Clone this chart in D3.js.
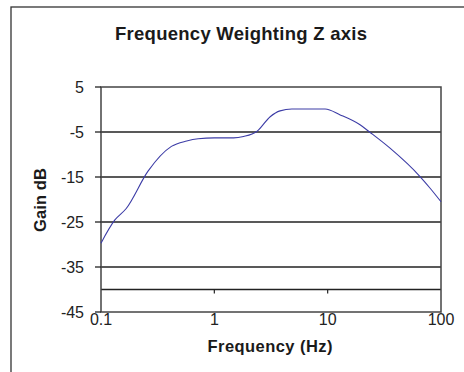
<!DOCTYPE html>
<html><head><meta charset="utf-8">
<script src="https://cdn.jsdelivr.net/npm/d3@7"></script>
<style>body{margin:0;background:#fff}svg{display:block}</style>
</head><body>
<script>
const freqHz = [0.1, 0.132, 0.167, 0.26, 0.418, 0.57, 0.72, 1.0, 1.48, 1.81, 2.37, 3.11, 3.8, 4.83, 9.5, 12.9, 19.3, 23.7, 35.5, 65.3, 80.2, 100];
const gainDb = [-29.7, -24.6, -22.0, -13.7, -8.2, -7.0, -6.5, -6.3, -6.3, -6.0, -4.9, -1.6, -0.3, 0.1, 0.1, -1.2, -3.4, -5.1, -8.6, -14.9, -17.5, -20.5];
const yTicks = [5, -5, -15, -25, -35, -45];
const gridLines = [-5, -15, -25, -35, -40];
const xTicks = [0.1, 1, 10, 100];
const xLabels = ["0.1", "1", "10", "100"];
const title = "Frequency Weighting Z axis";
const xTitle = "Frequency (Hz)";
const yTitle = "Gain dB";

const W = 464, H = 372;
const svg = d3.select("body").append("svg").attr("width", W).attr("height", H);
const font = "Liberation Sans, Arial, sans-serif";

// outer chart border
svg.append("rect").attr("x", 11).attr("y", 7).attr("width", 470).attr("height", 380)
  .attr("fill", "none").attr("stroke", "#333").attr("stroke-width", 1.3);

const L = 101, R = 441, T = 87, B = 312;
const x = d3.scaleLog().domain([0.1, 100]).range([L, R]);
const y = d3.scaleLinear().domain([-45, 5]).range([B, T]);

// gridlines
svg.append("g").selectAll("line").data(gridLines).join("line")
  .attr("x1", L).attr("x2", R).attr("y1", d => y(d)).attr("y2", d => y(d))
  .attr("stroke", "#222").attr("stroke-width", 1.3);

// crossing x axis at -40 with ticks
svg.append("g").selectAll("line").data([1, 10]).join("line")
  .attr("x1", d => x(d)).attr("x2", d => x(d)).attr("y1", y(-40)).attr("y2", y(-40) + 4)
  .attr("stroke", "#222").attr("stroke-width", 1.2);

// plot border
svg.append("rect").attr("x", L).attr("y", T).attr("width", R - L).attr("height", B - T)
  .attr("fill", "none").attr("stroke", "#444").attr("stroke-width", 1.5);

// y ticks
svg.append("g").selectAll("line").data(yTicks).join("line")
  .attr("x1", L - 6).attr("x2", L).attr("y1", d => y(d)).attr("y2", d => y(d))
  .attr("stroke", "#222").attr("stroke-width", 1.3);
svg.append("g").selectAll("text").data(yTicks).join("text")
  .attr("x", 84).attr("y", d => y(d)).attr("dy", "0.36em")
  .attr("text-anchor", "end").attr("font-family", font).attr("font-size", 16)
  .attr("fill", "#222").text(d => d);

// x labels
svg.append("g").selectAll("text").data(xTicks).join("text")
  .attr("x", d => x(d)).attr("y", 325)
  .attr("text-anchor", "middle").attr("font-family", font).attr("font-size", 16)
  .attr("fill", "#222").text((d, i) => xLabels[i]);

// curve
const line = d3.line().x((d, i) => x(freqHz[i])).y(d => y(d)).curve(d3.curveMonotoneX);
svg.append("path").datum(gainDb).attr("d", line)
  .attr("fill", "none").attr("stroke", "#3c3ca6").attr("stroke-width", 1.1);

// titles
svg.append("text").attr("x", 241).attr("y", 40).attr("text-anchor", "middle")
  .attr("font-family", font).attr("font-weight", "bold").attr("font-size", 18.5)
  .attr("textLength", 252).attr("lengthAdjust", "spacing")
  .attr("fill", "#1a1a1a").text(title);
svg.append("text").attr("x", 270).attr("y", 352).attr("text-anchor", "middle")
  .attr("font-family", font).attr("font-weight", "bold").attr("font-size", 16.5)
  .attr("textLength", 125).attr("lengthAdjust", "spacing")
  .attr("fill", "#1a1a1a").text(xTitle);
svg.append("text").attr("transform", "translate(46,200) rotate(-90)").attr("text-anchor", "middle")
  .attr("font-family", font).attr("font-weight", "bold").attr("font-size", 16.5)
  .attr("textLength", 64).attr("lengthAdjust", "spacing")
  .attr("fill", "#1a1a1a").text(yTitle);
</script>
</body></html>
